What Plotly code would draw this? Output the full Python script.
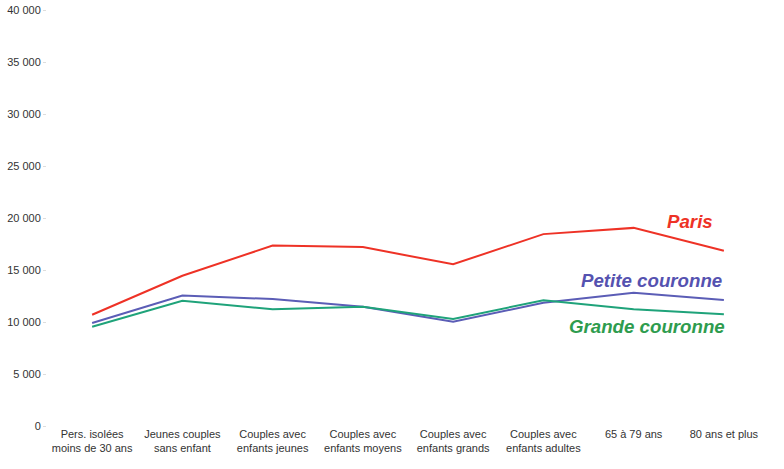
import plotly.graph_objects as go

categories = [
    "Pers. isolées<br>moins de 30 ans",
    "Jeunes couples<br>sans enfant",
    "Couples avec<br>enfants jeunes",
    "Couples avec<br>enfants moyens",
    "Couples avec<br>enfants grands",
    "Couples avec<br>enfants adultes",
    "65 à 79 ans",
    "80 ans et plus",
]
paris = [10700, 14450, 17350, 17200, 15550, 18450, 19050, 16850]
petite = [9900, 12550, 12200, 11470, 10030, 11850, 12820, 12120]
grande = [9550, 12050, 11220, 11470, 10280, 12100, 11220, 10740]

y_ticks = [0, 5000, 10000, 15000, 20000, 25000, 30000, 35000, 40000]
y_ticktext = ["0", "5 000", "10 000", "15 000", "20 000", "25 000", "30 000", "35 000", "40 000"]

red = "#EE3226"
blue = "#5B5DB6"
green = "#1FA37A"

fig = go.Figure()
fig.add_trace(go.Scatter(x=categories, y=paris, mode="lines", line=dict(color=red, width=2), name="Paris"))
fig.add_trace(go.Scatter(x=categories, y=petite, mode="lines", line=dict(color=blue, width=2), name="Petite couronne"))
fig.add_trace(go.Scatter(x=categories, y=grande, mode="lines", line=dict(color=green, width=2), name="Grande couronne"))

lab_font = dict(family="Liberation Sans, Arial, sans-serif", size=18.7)
fig.add_annotation(x=6.63, y=18450, xref="x", yref="y", text="<b><i>Paris</i></b>",
                   showarrow=False, font=dict(color=red, **lab_font), yanchor="bottom")
fig.add_annotation(x=6.2, y=12750, xref="x", yref="y", text="<b><i>Petite couronne</i></b>",
                   showarrow=False, font=dict(color="#5552B0", **lab_font), yanchor="bottom")
fig.add_annotation(x=6.15, y=9600, xref="x", yref="y", text="<b><i>Grande couronne</i></b>",
                   showarrow=False, font=dict(color="#2E9C4E", **lab_font), yanchor="middle")

fig.update_layout(
    width=784, height=469,
    margin=dict(l=47, r=15, t=10, b=43),
    paper_bgcolor="white", plot_bgcolor="white",
    showlegend=False,
    font=dict(family="Liberation Sans, Arial, sans-serif", size=11, color="#333333"),
    xaxis=dict(type="category", range=[-0.5, 7.5], showgrid=False, showline=False,
               zeroline=False, ticks="", tickfont=dict(size=11, color="#333333"),
               ticklabeloverflow="allow"),
    yaxis=dict(range=[0, 40000], tickvals=y_ticks, ticktext=y_ticktext, showgrid=False,
               showline=False, zeroline=False, ticks="outside", ticklen=3, tickcolor="#dddddd",
               tickfont=dict(size=11, color="#333333"), automargin=False,
               ticklabeloverflow="allow"),
)

fig.write_html("out.html", config={"displayModeBar": False},
               post_script="document.body.style.margin='0';document.body.style.overflow='hidden';")
